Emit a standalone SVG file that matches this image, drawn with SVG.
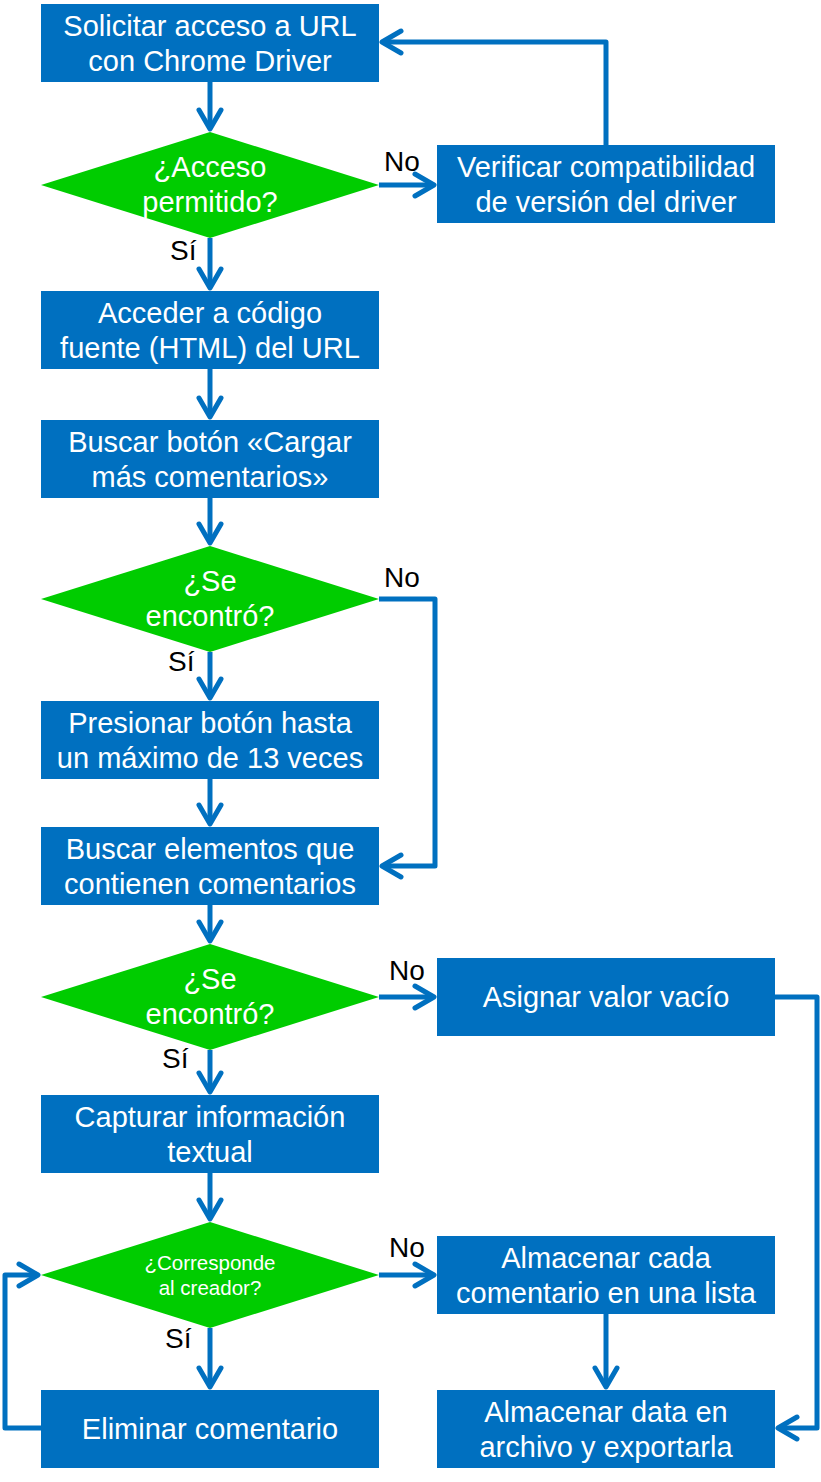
<svg xmlns="http://www.w3.org/2000/svg" width="821" height="1482" viewBox="0 0 821 1482">
<defs>
<marker id="arr" markerUnits="userSpaceOnUse" markerWidth="40" markerHeight="40" viewBox="-25 -20 30 40" refX="0" refY="0" orient="auto">
<path d="M-19,-11 L0,0 L-19,11" fill="none" stroke="#0070C0" stroke-width="5" stroke-linecap="round" stroke-linejoin="round"/>
</marker>
</defs>
<style>
.box{fill:#0070C0}
.dia{fill:#00CC00}
.t{font-family:"Liberation Sans",Arial,sans-serif;font-size:29px;fill:#fff;text-anchor:middle}
.ts{font-family:"Liberation Sans",Arial,sans-serif;font-size:20.5px;fill:#fff;text-anchor:middle}
.lbl{font-family:"Liberation Sans",Arial,sans-serif;font-size:28px;fill:#000}
.c{fill:none;stroke:#0070C0;stroke-width:5;stroke-linejoin:round;marker-end:url(#arr)}
</style>
<rect width="821" height="1482" fill="#fff"/>
<g id="connectors">
<path class="c" d="M210,82 V129"/>
<path class="c" d="M379,185 H434"/>
<path class="c" d="M606,145 V42 H382"/>
<path class="c" d="M210,238 V288"/>
<path class="c" d="M210,369 V417"/>
<path class="c" d="M210,498 V543"/>
<path class="c" d="M379,599 H435 V866 H382"/>
<path class="c" d="M210,652 V698"/>
<path class="c" d="M210,779 V824"/>
<path class="c" d="M210,905 V941"/>
<path class="c" d="M379,997 H434"/>
<path class="c" d="M775,997 H817 V1428 H778"/>
<path class="c" d="M210,1050 V1092"/>
<path class="c" d="M210,1173 V1219"/>
<path class="c" d="M379,1275 H434"/>
<path class="c" d="M210,1328 V1387"/>
<path class="c" d="M41,1428 H5 V1275 H38"/>
<path class="c" d="M606,1314 V1387"/>
</g>
<g id="labels">
<text class="lbl" x="384" y="171">No</text>
<text class="lbl" x="170" y="260">Sí</text>
<text class="lbl" x="384" y="587">No</text>
<text class="lbl" x="168" y="671">Sí</text>
<text class="lbl" x="389" y="980">No</text>
<text class="lbl" x="162" y="1068">Sí</text>
<text class="lbl" x="389" y="1257">No</text>
<text class="lbl" x="165" y="1348">Sí</text>
</g>
<g id="n1"><rect class="box" x="41" y="4" width="338" height="78"/><text class="t" x="210" y="36">Solicitar acceso a URL</text><text class="t" x="210" y="71">con Chrome Driver</text></g>
<g id="d1"><polygon class="dia" points="41,185 210,132 379,185 210,238"/><text class="t" x="210" y="177">¿Acceso</text><text class="t" x="210" y="212">permitido?</text></g>
<g id="n2"><rect class="box" x="437" y="145" width="338" height="78"/><text class="t" x="606" y="177">Verificar compatibilidad</text><text class="t" x="606" y="212">de versión del driver</text></g>
<g id="n3"><rect class="box" x="41" y="291" width="338" height="78"/><text class="t" x="210" y="323">Acceder a código</text><text class="t" x="210" y="358">fuente (HTML) del URL</text></g>
<g id="n4"><rect class="box" x="41" y="420" width="338" height="78"/><text class="t" x="210" y="452">Buscar botón «Cargar</text><text class="t" x="210" y="487">más comentarios»</text></g>
<g id="d2"><polygon class="dia" points="41,599 210,546 379,599 210,652"/><text class="t" x="210" y="591">¿Se</text><text class="t" x="210" y="626">encontró?</text></g>
<g id="n5"><rect class="box" x="41" y="701" width="338" height="78"/><text class="t" x="210" y="733">Presionar botón hasta</text><text class="t" x="210" y="768">un máximo de 13 veces</text></g>
<g id="n6"><rect class="box" x="41" y="827" width="338" height="78"/><text class="t" x="210" y="859">Buscar elementos que</text><text class="t" x="210" y="894">contienen comentarios</text></g>
<g id="d3"><polygon class="dia" points="41,997 210,944 379,997 210,1050"/><text class="t" x="210" y="989">¿Se</text><text class="t" x="210" y="1024">encontró?</text></g>
<g id="n7"><rect class="box" x="437" y="958" width="338" height="78"/><text class="t" x="606" y="1007">Asignar valor vacío</text></g>
<g id="n8"><rect class="box" x="41" y="1095" width="338" height="78"/><text class="t" x="210" y="1127">Capturar información</text><text class="t" x="210" y="1162">textual</text></g>
<g id="d4"><polygon class="dia" points="41,1275 210,1222 379,1275 210,1328"/><text class="ts" x="210" y="1270">¿Corresponde</text><text class="ts" x="210" y="1295">al creador?</text></g>
<g id="n9"><rect class="box" x="437" y="1236" width="338" height="78"/><text class="t" x="606" y="1268">Almacenar cada</text><text class="t" x="606" y="1303">comentario en una lista</text></g>
<g id="n10"><rect class="box" x="41" y="1390" width="338" height="78"/><text class="t" x="210" y="1439">Eliminar comentario</text></g>
<g id="n11"><rect class="box" x="437" y="1390" width="338" height="78"/><text class="t" x="606" y="1422">Almacenar data en</text><text class="t" x="606" y="1457">archivo y exportarla</text></g>
</svg>
